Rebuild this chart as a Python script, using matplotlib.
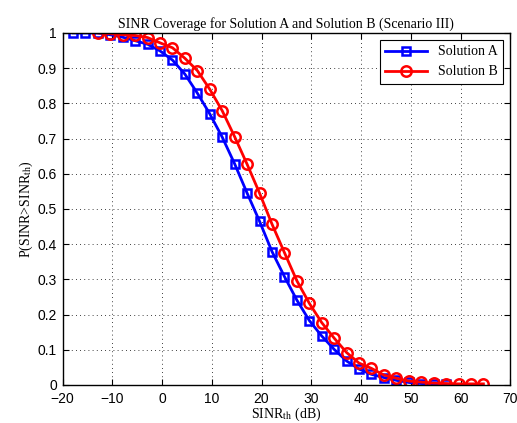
import matplotlib
matplotlib.use('Agg')
import matplotlib.pyplot as plt

sinr_a = [-17.9, -15.4, -12.9, -10.4, -7.9, -5.4, -2.9, -0.4, 2.1, 4.6, 7.1, 9.6, 12.1, 14.6,
          17.1, 19.6, 22.1, 24.6, 27.1, 29.6, 32.1, 34.6, 37.1, 39.6, 42.1, 44.6, 47.1, 49.6,
          52.1, 54.6, 57.1]
cov_a = [1.0, 1.0, 1.0, 0.995, 0.988, 0.978, 0.968, 0.949, 0.923, 0.883, 0.829, 0.770, 0.704,
         0.628, 0.545, 0.465, 0.379, 0.308, 0.241, 0.183, 0.139, 0.101, 0.068, 0.045, 0.030,
         0.021, 0.013, 0.007, 0.004, 0.003, 0.002]

sinr_b = [-12.9, -10.4, -7.9, -5.4, -2.9, -0.4, 2.1, 4.6, 7.1, 9.6, 12.1, 14.6, 17.1, 19.6,
          22.1, 24.6, 27.1, 29.6, 32.1, 34.6, 37.1, 39.6, 42.1, 44.6, 47.1, 49.6, 52.1, 54.6,
          57.1, 59.6, 62.1, 64.6]
cov_b = [1.0, 0.998, 0.995, 0.993, 0.987, 0.972, 0.958, 0.928, 0.893, 0.840, 0.779, 0.705,
         0.627, 0.545, 0.457, 0.376, 0.296, 0.232, 0.177, 0.133, 0.092, 0.062, 0.047, 0.028,
         0.019, 0.011, 0.008, 0.005, 0.004, 0.003, 0.003, 0.003]

plt.rcParams['mathtext.fontset'] = 'stix'
serif = 'Liberation Serif'
sans = 'Liberation Sans'

fig = plt.figure(figsize=(5.17, 4.23), dpi=100)
ax = fig.add_axes([0.121, 0.090, 0.866, 0.832])

ax.plot(sinr_a, cov_a, color='#0000ff', lw=2, marker='s', ms=5.5, mfc='none', mew=1.8,
        label='Solution A')
ax.plot(sinr_b, cov_b, color='#ff0000', lw=2, marker='o', ms=7.5, mfc='none', mew=1.8,
        label='Solution B')

ax.set_xlim(-20, 70)
ax.set_ylim(0, 1)
ax.set_xticks(range(-20, 71, 10))
ax.set_yticks([i / 10 for i in range(11)])
ax.set_yticklabels(['0', '0.1', '0.2', '0.3', '0.4', '0.5', '0.6', '0.7', '0.8', '0.9', '1'])
ax.tick_params(direction='in', top=True, right=True, length=4, width=0.8, labelsize=10)
ax.tick_params(axis='x', pad=5)
ax.tick_params(axis='y', pad=4)
for lab in ax.get_xticklabels() + ax.get_yticklabels():
    lab.set_fontfamily(sans)
for sp in ax.spines.values():
    sp.set_linewidth(1.0)
ax.grid(True, color='black', ls=(0, (1, 4)), lw=0.6)

ax.set_title('SINR Coverage for Solution A and Solution B (Scenario III)', family=serif,
             fontsize=10, pad=4)
ax.set_xlabel('SINR$_{\\rm th}$ (dB)', family=serif, fontsize=10, labelpad=0)
ax.set_ylabel('P(SINR>SINR$_{\\rm th}$)', family=serif, fontsize=10, labelpad=2)

leg = ax.legend(loc='upper right', prop={'family': serif, 'size': 10}, fancybox=False,
                edgecolor='black', framealpha=1, borderaxespad=0.5, handlelength=3)
leg.get_frame().set_linewidth(0.8)

fig.savefig('out.png', dpi=100)
